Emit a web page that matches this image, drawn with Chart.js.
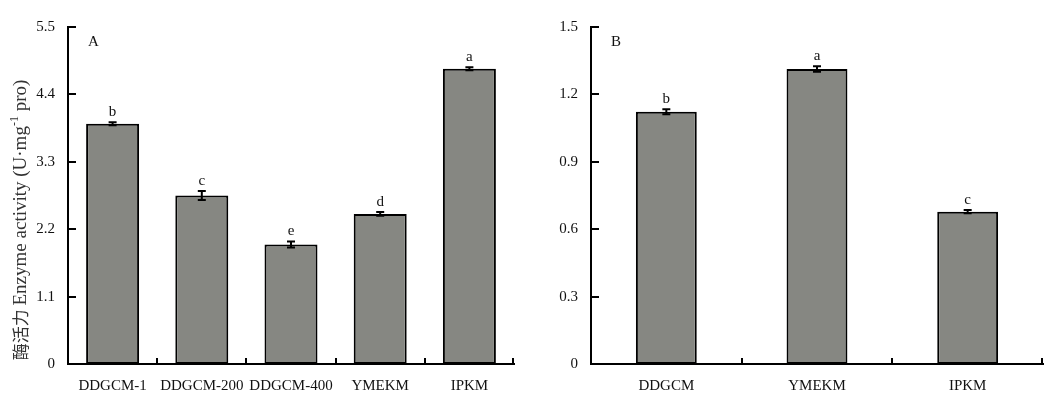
<!DOCTYPE html>
<html><head><meta charset="utf-8">
<script src="https://cdn.jsdelivr.net/npm/chart.js@4.4.0/dist/chart.umd.min.js"></script>
<style>
body{margin:0;background:#fff;width:1055px;height:396px;overflow:hidden;position:relative}
.c{position:absolute;top:0}
</style></head><body>
<div class="c" style="left:0"><canvas id="a" width="530" height="396"></canvas></div>
<div class="c" style="left:540px"><canvas id="b" width="515" height="396"></canvas></div>
<script>
const categoriesA = ['DDGCM-1', 'DDGCM-200', 'DDGCM-400', 'YMEKM', 'IPKM'];
const valuesA = [3.92, 2.75, 1.95, 2.45, 4.82];
const errorsA = [0.025, 0.075, 0.05, 0.03, 0.025];
const lettersA = ['b', 'c', 'e', 'd', 'a'];
const ticksA = [0, 1.1, 2.2, 3.3, 4.4, 5.5];

const categoriesB = ['DDGCM', 'YMEKM', 'IPKM'];
const valuesB = [1.123, 1.313, 0.678];
const errorsB = [0.011, 0.012, 0.007];
const lettersB = ['b', 'a', 'c'];
const ticksB = [0, 0.3, 0.6, 0.9, 1.2, 1.5];

const SERIF = '"Liberation Serif", "Times New Roman", serif';

const decor = {
  id: 'decor',
  afterDatasetsDraw(chart, args, opts) {
    const ctx = chart.ctx, ys = chart.scales.y, area = chart.chartArea;
    const meta = chart.getDatasetMeta(0);
    ctx.save();
    ctx.strokeStyle = '#000';
    ctx.lineWidth = 2;
    // error bars + letters
    opts.values.forEach((v, i) => {
      const px = meta.data[i].x;
      const e = opts.errors[i];
      const yt = ys.getPixelForValue(v + e), yb = ys.getPixelForValue(v - e);
      ctx.beginPath();
      ctx.moveTo(px, yt); ctx.lineTo(px, yb);
      ctx.moveTo(px - 4, yt); ctx.lineTo(px + 4, yt);
      ctx.moveTo(px - 4, yb); ctx.lineTo(px + 4, yb);
      ctx.stroke();
      ctx.fillStyle = '#111';
      ctx.font = '15px ' + SERIF;
      ctx.textAlign = 'center';
      ctx.textBaseline = 'alphabetic';
      ctx.fillText(opts.letters[i], px, yt - 6);
    });
    // inward y ticks
    ctx.beginPath();
    ys.ticks.forEach(t => {
      const py = Math.round(ys.getPixelForValue(t.value));
      ctx.moveTo(area.left, py); ctx.lineTo(area.left + 8, py);
    });
    // inward x ticks at category boundaries
    const n = meta.data.length;
    for (let i = 1; i <= n; i++) {
      const bx = i < n ? Math.round((meta.data[i - 1].x + meta.data[i].x) / 2) : area.right - 1;
      ctx.moveTo(bx, area.bottom); ctx.lineTo(bx, area.bottom - 6);
    }
    ctx.stroke();
    // panel letter
    ctx.fillStyle = '#111';
    ctx.font = '15px ' + SERIF;
    ctx.textAlign = 'left';
    ctx.fillText(opts.panel, area.left + 20, area.top + 19);
    // y title
    if (opts.title) {
      const segs = [
        ['酶活力 ', '17px "Noto Sans CJK SC"', 0],
        ['Enzyme activity (U·mg', '19px ' + SERIF, 0],
        ['-1', '12px ' + SERIF, -6],
        [' pro)', '19px ' + SERIF, 0]
      ];
      ctx.translate(21, 220);
      ctx.rotate(-Math.PI / 2);
      let total = 0;
      segs.forEach(s => { ctx.font = s[1]; total += ctx.measureText(s[0]).width; });
      let x = -total / 2;
      ctx.fillStyle = '#333';
      ctx.textBaseline = 'middle';
      segs.forEach(s => {
        ctx.font = s[1];
        ctx.fillText(s[0], x, s[2]);
        x += ctx.measureText(s[0]).width;
      });
    }
    ctx.restore();
  }
};

function makeChart(id, cats, vals, errs, letters, ticks, yMax, yWidth, rightPad, barPct, panel, title) {
  return new Chart(document.getElementById(id), {
    type: 'bar',
    data: {
      labels: cats,
      datasets: [{
        data: vals,
        backgroundColor: '#868782',
        borderColor: '#000',
        borderWidth: 2,
        borderSkipped: false,
        barPercentage: barPct,
        categoryPercentage: 1
      }]
    },
    options: {
      responsive: false,
      devicePixelRatio: 1,
      animation: false,
      layout: { padding: { top: 27, right: rightPad, bottom: 0, left: 0 } },
      plugins: {
        legend: { display: false },
        tooltip: { enabled: false },
        decor: { values: vals, errors: errs, letters: letters, panel: panel, title: title }
      },
      scales: {
        x: {
          grid: { display: false },
          border: { display: true, color: '#000', width: 2 },
          ticks: { color: '#111', font: { family: SERIF, size: 15 }, padding: 5, maxRotation: 0, autoSkip: false },
          afterFit(s) { s.height = 32; }
        },
        y: {
          min: 0, max: yMax,
          grid: { display: false },
          border: { display: true, color: '#000', width: 2 },
          ticks: {
            color: '#111', font: { family: SERIF, size: 15 }, padding: 5,
            callback: v => v === 0 ? '0' : Number(v).toFixed(1)
          },
          afterBuildTicks(s) { s.ticks = ticks.map(v => ({ value: v })); },
          afterFit(s) { s.width = yWidth; }
        }
      }
    },
    plugins: [decor]
  });
}

makeChart('a', categoriesA, valuesA, errorsA, lettersA, ticksA, 5.5, 68, 16, 0.594, 'A', true);
makeChart('b', categoriesB, valuesB, errorsB, lettersB, ticksB, 1.5, 51, 12, 0.404, 'B', false);
</script>
</body></html>
